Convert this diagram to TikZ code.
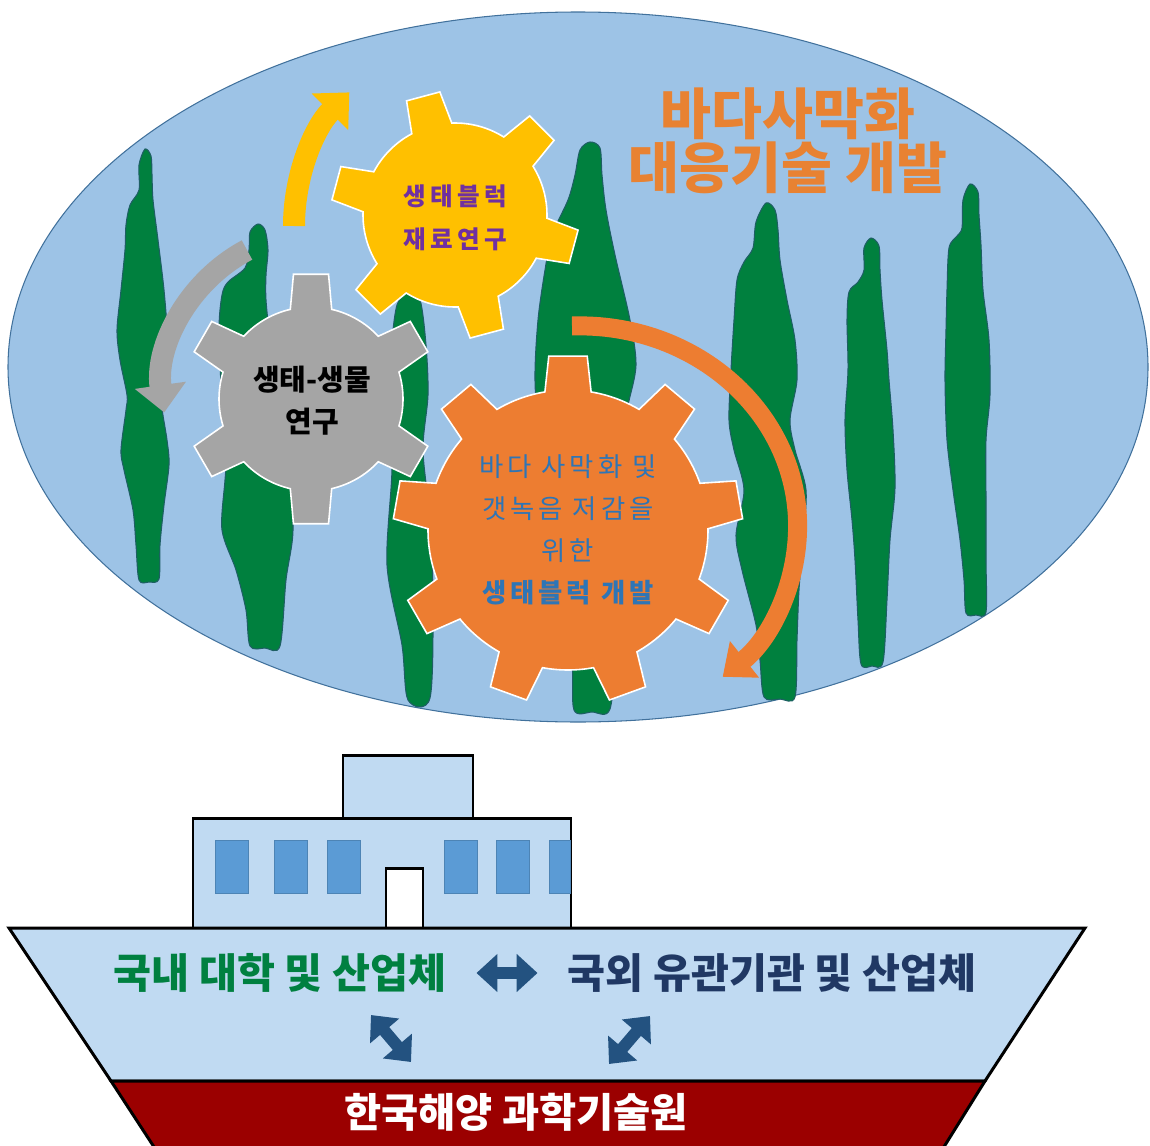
\documentclass[tikz,border=0pt]{standalone}
\usepackage{fontspec}
\setmainfont{Noto Sans CJK KR}
\usetikzlibrary{arrows.meta}

\definecolor{seablue}{RGB}{157,195,230}
\definecolor{seaedge}{RGB}{65,113,156}
\definecolor{kelp}{RGB}{0,128,62}
\definecolor{kelpedge}{RGB}{30,95,100}
\definecolor{gearyellow}{RGB}{255,192,0}
\definecolor{geargray}{RGB}{165,165,165}
\definecolor{gearorange}{RGB}{237,125,49}
\definecolor{titleorange}{RGB}{232,130,50}
\definecolor{labelpurple}{RGB}{112,48,160}
\definecolor{labelblue}{RGB}{46,117,182}
\definecolor{shipblue}{RGB}{192,218,242}
\definecolor{windowblue}{RGB}{91,155,213}
\definecolor{keelred}{RGB}{155,0,0}
\definecolor{domgreen}{RGB}{0,128,64}
\definecolor{intlnavy}{RGB}{32,56,100}
\definecolor{linkblue}{RGB}{35,82,128}

% gear: centre x, centre y, teeth, offset angle, body radius, tip radius,
% half angle of a tooth at the body, half angle at the tip, colour
\newcommand{\gearwheel}[9]{%
	\begin{scope}[shift={(#1,#2)}]
		\filldraw[fill=#9, draw=white, line width=0.9pt]
			({#4-#7}:#5)
			\foreach \k in {1,...,#3} {
				-- ({#4+(\k-1)*360/#3-#8}:#6) -- ({#4+(\k-1)*360/#3+#8}:#6)
				-- ({#4+(\k-1)*360/#3+#7}:#5)
				arc[start angle={#4+(\k-1)*360/#3+#7}, end angle={#4+\k*360/#3-#7}, radius=#5]
			} -- cycle;
	\end{scope}}

\begin{document}
\begin{tikzpicture}[
		x=0.02cm, y=-0.02cm,
		kelpblade/.style={fill=kelp, draw=kelpedge, line width=0.6pt},
		turnarrow/.style={line width=0.44cm, -{Triangle[width=1cm, length=0.55cm]}},
		geartext/.style={align=center, inner sep=0pt},
		cabin/.style={fill=shipblue, draw=black, line width=1.7pt},
		window/.style={fill=windowblue, draw=windowblue!85!black, line width=0.3pt},
		hull/.style={fill=shipblue, draw=black, line width=1.7pt, line join=miter},
		keel/.style={fill=keelred, draw=black, line width=1.7pt},
		shiptext/.style={inner sep=0pt, font=\bfseries\fontsize{23.5}{26}\selectfont},
		linkarrow/.style={draw=linkblue, line width=0.24cm,
			{Triangle[width=0.74cm, length=0.42cm]}-{Triangle[width=0.74cm, length=0.42cm]}}
		]
		\useasboundingbox (0,0) rectangle (1150,1146);

		% ---------------------------------------------------------
		% Sea: ellipse with kelp blades
		% ---------------------------------------------------------
		\draw[fill=seablue, draw=seaedge, line width=0.6pt] (578,367) ellipse [x radius=570, y radius=355];

		\draw[kelpblade] plot[smooth cycle, tension=0.5] coordinates {(145,149) (151,156) (152,175) (153,200) (158,240) (164,290) (167,335) (163,370) (161,400) (167,440) (169,465) (164,505) (160,545) (159,579) (149,582) (139,580) (136,545) (133,510) (124,470) (121,450) (126,410) (127,395) (120,360) (117,330) (121,290) (125,250) (126,225) (130,205) (139,190) (139,165)};
		\draw[kelpblade] plot[smooth cycle, tension=0.5] coordinates {(258,224) (265,230) (268,250) (266,275) (266,300) (270,340) (277,400) (288,460) (293,530) (286,580) (280,646) (265,648) (250,646) (246,610) (236,570) (222,530) (225,480) (228,440) (222,400) (219,330) (222,295) (228,282) (245,268) (249,250) (250,232)};
		\draw[kelpblade] plot[smooth cycle, tension=0.5] coordinates {(407,292) (420,300) (426,345) (428,395) (423,450) (430,520) (433,600) (430,698) (408,700) (402,645) (387,565) (392,468) (388,400) (392,340) (397,305)};
		\draw[kelpblade] plot[smooth cycle, tension=0.5] coordinates {(590,142) (600,148) (602,175) (606,210) (615,255) (630,320) (636,365) (628,405) (618,450) (614,520) (612,580) (616,640) (610,709) (592,712) (574,710) (572,660) (563,600) (552,520) (540,450) (535,380) (538,320) (545,270) (552,235) (568,200) (575,175) (580,150)};
		\draw[kelpblade] plot[smooth cycle, tension=0.5] coordinates {(766,203) (775,210) (778,230) (780,260) (787,300) (795,340) (797,380) (790,420) (795,450) (806,490) (803,540) (799,590) (797,640) (795,697) (780,699) (764,697) (760,660) (756,625) (742,570) (736,535) (744,490) (734,450) (729,420) (731,370) (734,320) (737,280) (744,262) (753,248) (756,222)};
		\draw[kelpblade] plot[smooth cycle, tension=0.5] coordinates {(871,238) (879,246) (880,270) (882,300) (887,350) (889,380) (893,430) (895,488) (890,540) (887,600) (883,662) (872,666) (861,664) (858,620) (855,560) (852,520) (847,470) (845,420) (848,370) (847,320) (849,292) (858,282) (864,270) (864,248)};
		\draw[kelpblade] plot[smooth cycle, tension=0.5] coordinates {(970,184) (978,192) (979,215) (981,245) (983,290) (989,340) (990,395) (986,440) (986,500) (986,560) (986,612) (976,615) (966,613) (964,580) (960,540) (953,490) (947,440) (945,380) (946,330) (947,290) (949,248) (957,236) (962,228) (963,200)};

		\node[font=\bfseries\fontsize{31.5}{30.5}\selectfont, text=titleorange, align=center] (title) at (788,141) {바다사막화\\대응기술 개발};

		% ---------------------------------------------------------
		% Gears and the arrows turning round them
		% ---------------------------------------------------------
		\gearwheel{455}{215}{6}{15}{92}{124}{13}{8}{gearyellow}
		\gearwheel{311}{399}{6}{30}{92}{126}{13}{8}{geargray}
		\gearwheel{568}{530}{9}{30}{140}{175}{9.5}{6.3}{gearorange}

		\draw[turnarrow, draw=gearyellow] (294,226) arc[start angle=180, end angle=225, radius=189];
		\draw[turnarrow, draw=geargray] (247,250) arc[start angle=242, end angle=172, radius=159];
		\draw[turnarrow, draw=gearorange, line width=0.38cm, -{Triangle[width=0.9cm, length=0.56cm]}]
			(572,326) arc[start angle=268, end angle=409, x radius=218, y radius=200];

		\node[geartext, text=labelpurple, font=\bfseries\fontsize{14}{24.5}\selectfont\addfontfeatures{LetterSpace=18}] (material) at (455,218) {생태블럭\\재료연구};
		\node[geartext, text=black, font=\bfseries\fontsize{16.5}{24}\selectfont] (ecology) at (312,401) {생태-생물\\연구};
		\node[geartext, text=labelblue, font=\fontsize{15}{24}\selectfont\addfontfeatures{LetterSpace=15}] (block) at (568,530) {바다 사막화 및\\갯녹음 저감을\\위한\\{\bfseries 생태블럭 개발}};

		% ---------------------------------------------------------
		% Ship: funnel, cabin, hull and keel
		% ---------------------------------------------------------
		\draw[cabin] (343,755) rectangle (473,818);
		\draw[cabin] (193,818) rectangle (571,930);
		\foreach \x/\w in {215/33, 274/33, 327/33, 444/33, 496/33, 549/21} {
			\fill[window] (\x,840) rectangle ++(\w,53);
		}
		\draw[fill=white, line width=1.7pt] (386,868) rectangle (423,930);

		\draw[hull] (9,928) -- (1085,928) -- (985,1081) -- (111,1081) -- cycle;
		\draw[keel] (111,1081) -- (985,1081) -- (942,1150) -- (156,1150) -- cycle;

		\node[shiptext, text=domgreen] (dom) at (280,973) {국내 대학 및 산업체};
		\node[shiptext, text=intlnavy] (intl) at (772,973) {국외 유관기관 및 산업체};
		\node[inner sep=0pt, text=white, font=\bfseries\fontsize{23}{26}\selectfont] (kiost) at (516,1112) {한국해양 과학기술원};

		% links between the partners
		\coordinate (dom-link) at (371,1015);
		\coordinate (kiost-link-w) at (411,1062);
		\coordinate (intl-link) at (650,1016);
		\coordinate (kiost-link-e) at (609,1064);
		\draw[linkarrow, shorten <=0.6cm, shorten >=0.6cm] (dom.east) -- (intl.west);
		\draw[linkarrow] (dom-link) -- (kiost-link-w);
		\draw[linkarrow] (intl-link) -- (kiost-link-e);

	\end{tikzpicture}
\end{document}
